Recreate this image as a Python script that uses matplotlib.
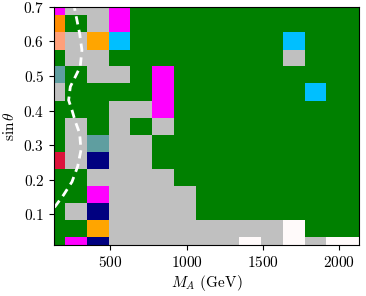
import numpy as np
import matplotlib
matplotlib.use("Agg")
import matplotlib.pyplot as plt
from matplotlib.colors import ListedColormap

plt.rcParams['font.family'] = 'serif'
plt.rcParams['font.serif'] = ['cmr10']
plt.rcParams['mathtext.fontset'] = 'cm'
plt.rcParams['axes.formatter.use_mathtext'] = True

# grid points
masses = [130, 273, 416, 559, 701, 844, 987, 1130, 1273, 1416, 1559, 1701, 1844, 1987, 2130]
sins = [0.01, 0.059, 0.109, 0.158, 0.207, 0.256, 0.306, 0.355, 0.404, 0.454, 0.503, 0.552, 0.601, 0.651, 0.70]

# colour code per cell, top row first
codes = {'G': 'green', 'S': 'silver', 'M': 'magenta', 'O': 'orange', 'D': 'darkorange',
         'L': 'lightsalmon', 'C': 'cadetblue', 'R': 'crimson', 'N': 'navy',
         'B': 'deepskyblue', 'W': 'snow'}
rows = ["MSSMGGGGGGGGGGG",
        "DGSMGGGGGGGGGGG",
        "LSOBGGGGGGGBGGG",
        "GSSGGGGGGGGSGGG",
        "CGSSGMGGGGGGGGG",
        "SGGGGMGGGGGGBGG",
        "GGGSSMGGGGGGGGG",
        "GSGSGSGGGGGGGGG",
        "GSCSSGGGGGGGGGG",
        "RSNSSGGGGGGGGGG",
        "GGSSSSGGGGGGGGG",
        "GGMSSSSGGGGGGGG",
        "GSNSSSSGGGGGGGG",
        "GGOSSSSSSSSWGGG",
        "GMNSSSSSSWSWSWW"]

# dashed contour
line_m = [133, 193, 248, 285, 307, 298, 270, 248, 226, 237, 270, 302, 313, 298, 276, 263]
line_s = [0.120, 0.156, 0.194, 0.238, 0.286, 0.334, 0.368, 0.401, 0.430, 0.469, 0.498, 0.527, 0.575, 0.623, 0.671, 0.700]

keys = list(codes.keys())
cmap = ListedColormap([codes[k] for k in keys])
z = np.array([[keys.index(c) for c in r] for r in rows[::-1]])

fig = plt.figure(figsize=(3.66, 2.96), dpi=100)
ax = fig.add_axes([0.1475, 0.171, 0.834, 0.806])
ax.pcolormesh(masses, sins, z, cmap=cmap, vmin=-0.5, vmax=len(keys) - 0.5,
              shading='nearest', antialiased=True)
ax.plot(line_m, line_s, color='white', lw=2, ls=(0, (3, 2)))

ax.set_xlim(masses[0], masses[-1])
ax.set_ylim(sins[0], sins[-1])
ax.set_xticks([500, 1000, 1500, 2000])
ax.set_yticks([0.1, 0.2, 0.3, 0.4, 0.5, 0.6, 0.7])
ax.tick_params(labelsize=11)
ax.set_xlabel(r'$M_A$ (GeV)', fontsize=11, labelpad=2)
ax.set_ylabel(r'$\sin\theta$', fontsize=11, labelpad=4)

fig.savefig('out.png', dpi=100)
